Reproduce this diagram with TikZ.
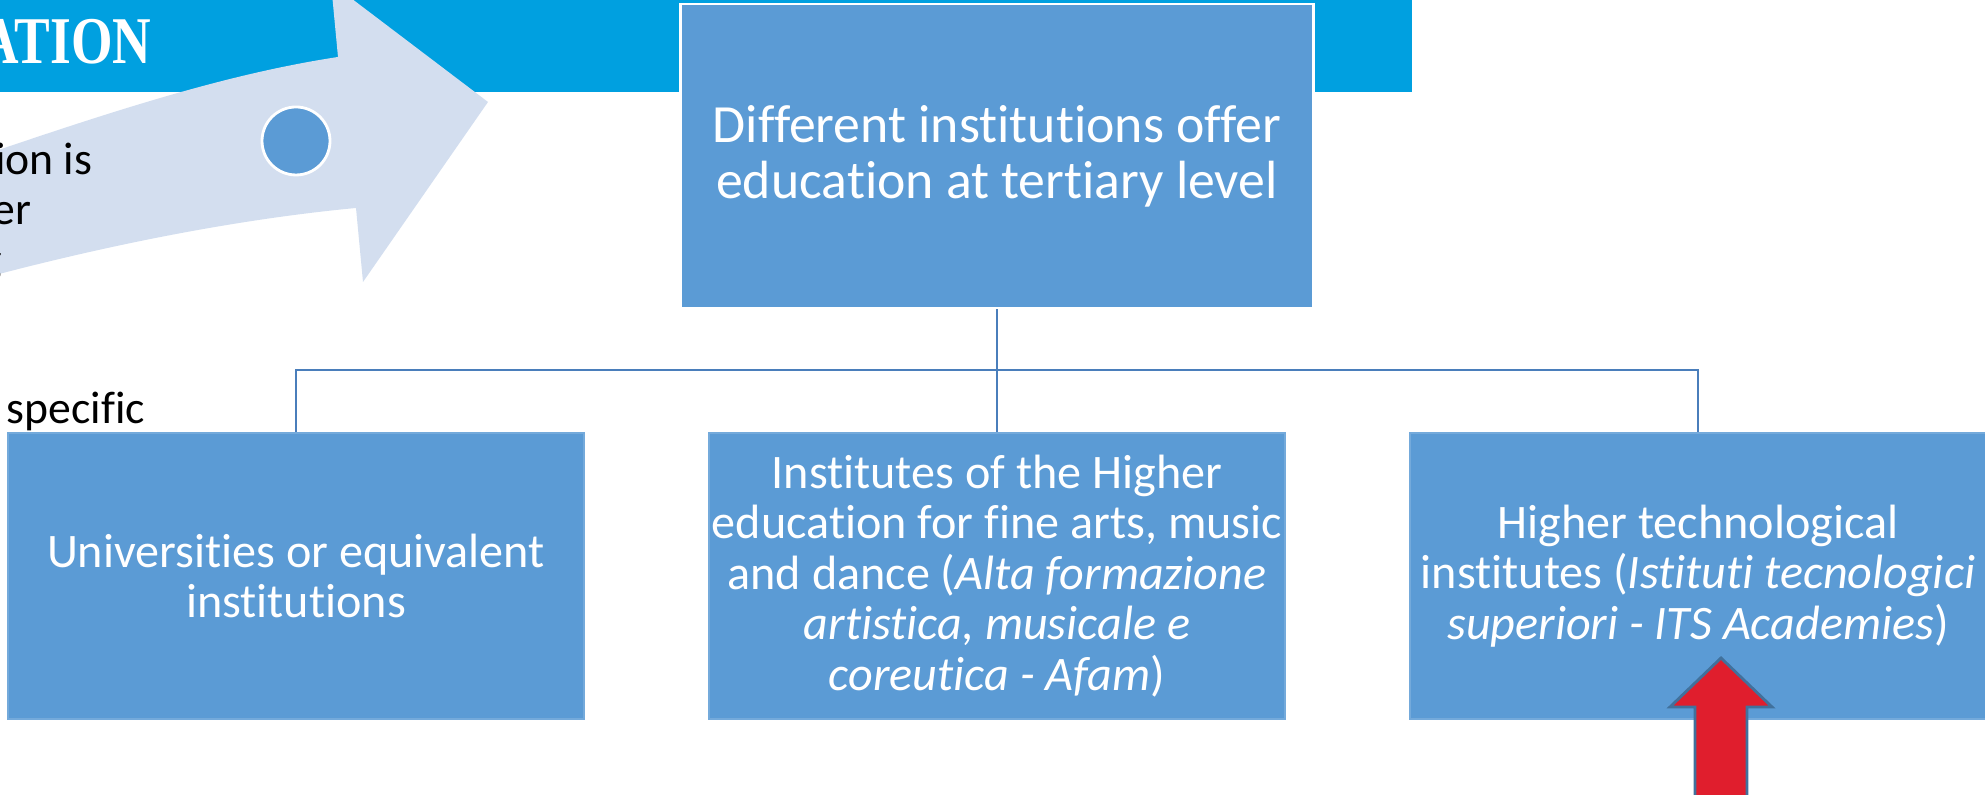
\documentclass[tikz,border=0pt]{standalone}
\usepackage{fontspec}
\setmainfont{Carlito}[Ligatures=NoCommon]
\newfontfamily\titlefont{Liberation Serif}
\usepackage{tikz}
\definecolor{cbanner}{HTML}{00A0E0}
\definecolor{cbox}{HTML}{5B9BD5}
\definecolor{carrow}{HTML}{D3DEEF}
\definecolor{cline}{HTML}{4A7EBB}
\definecolor{cedge}{HTML}{41719C}
\definecolor{cred}{HTML}{E01E2D}

\begin{document}
\begin{tikzpicture}[scale=1.0,
    box/.style={rectangle, fill=cbox, draw=cbox!85!white, line width=0.4pt,
                text=white, align=center, inner sep=0pt,
                minimum width=5.76cm, minimum height=2.86cm,
                font=\fontsize{13.7}{14.4}\selectfont},
    side/.style={inner sep=0pt, font=\fontsize{13}{14.4}\selectfont},
    link/.style={draw=cline, line width=0.7pt}]
  \useasboundingbox (0,0) rectangle (19.85,7.95);
  \clip (0,0) rectangle (19.85,7.95);

  % title strip
  \fill[cbanner] (0,7.03) rectangle (14.12,8.0);
  \node[anchor=base east, inner sep=0pt, text=white,
        font=\titlefont\fontsize{19}{24}\selectfont\bfseries]
        (title) at (1.52,7.31) {\scalebox{0.8}[1]{ATION}};

  % curved arrow with its dot
  \fill[carrow] (-0.6,6.25) .. controls (1.0,6.8) and (2.2,7.2) .. (3.38,7.38)
        -- (3.31,8.12) -- (4.88,6.93) -- (3.63,5.13) -- (3.56,5.87)
        .. controls (2.4,5.76) and (1.0,5.5) .. (-0.6,5.05) -- cycle;
  \node[circle, fill=cbox, draw=white, line width=0.8pt,
        minimum size=0.68cm, inner sep=0pt] (dot) at (2.96,6.54) {};

  % text running in from the left
  \node[side, anchor=base east] (ionis) at (0.93,6.20) {ion is};
  \node[side, anchor=base east] (er) at (0.32,5.70) {er};
  \node[side, anchor=base east] (gtail) at (0.03,5.20) {g};
  \node[side, anchor=base west] (specific) at (0.06,3.71) {specific};

  % root
  \node[box, draw=white, line width=0.7pt, minimum width=6.33cm,
        minimum height=3.04cm, font=\fontsize{15.3}{16}\selectfont]
        (offer) at (9.97,6.39) {Different institutions offer\\education at tertiary level};

  % the three kinds of institution
  \node[box] (uni) at (2.96,2.19) {Universities or equivalent\\institutions};
  \node[box] (afam) at (9.97,2.19) {Institutes of the Higher\\education for fine arts, music\\and dance (\textit{Alta formazione}\\\textit{artistica, musicale e}\\\textit{coreutica - Afam})};
  \node[box] (its) at (16.98,2.19) {Higher technological\\institutes (\textit{Istituti tecnologici}\\\textit{superiori - ITS Academies})};

  \coordinate (split) at (9.97,4.25);
  \draw[link] (offer.south) -- (split);
  \draw[link] (split) -| (uni.north);
  \draw[link] (split) -- (afam.north);
  \draw[link] (split) -| (its.north);

  % pointer at ITS
  \draw[fill=cred, draw=cedge, line width=0.8pt]
        (16.95,-0.1) -- (16.95,0.88) -- (16.70,0.88) -- (17.21,1.37)
        -- (17.72,0.88) -- (17.47,0.88) -- (17.47,-0.1) -- cycle;
\end{tikzpicture}
\end{document}
